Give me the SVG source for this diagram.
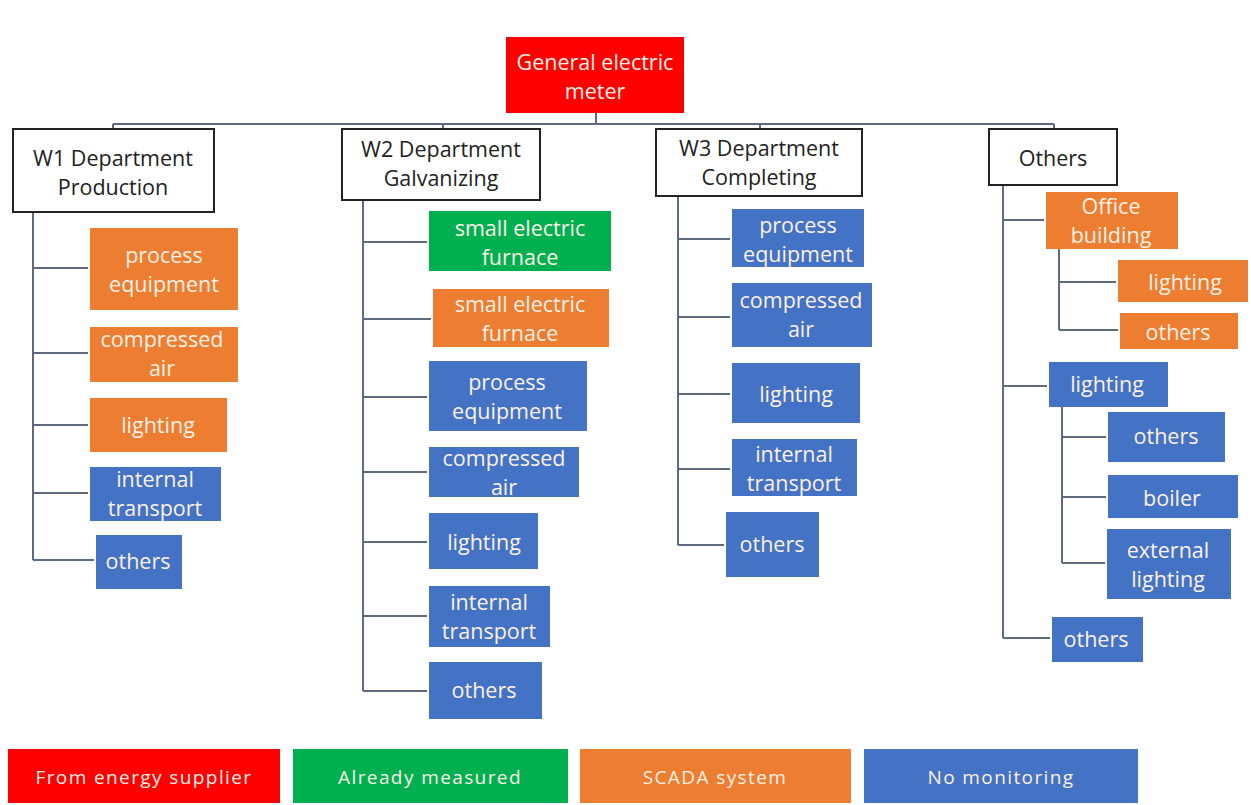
<svg xmlns="http://www.w3.org/2000/svg" width="1251" height="805" viewBox="0 0 1251 805">
<style>
text{font-family:"Open Sans","Noto Sans",sans-serif;font-size:21.5px;text-anchor:middle;dominant-baseline:central}
.dept rect{fill:#fff;stroke:#222;stroke-width:2}
.dept text{fill:#222}
.o rect{fill:#ED7D31}
.b rect{fill:#4472C4}
.g rect{fill:#00B050}
.r rect{fill:#FF0000}
.o text,.b text,.g text,.r text{fill:#FBF1E6}
.leg text{font-size:19px;letter-spacing:1.4px}
#connectors path{fill:none;stroke:#5E6A80;stroke-width:2}
</style>
<rect width="1251" height="805" fill="#fff"/>
<g id="connectors">
<path d="M596 113V124M113 124H1054M113 124V129M443 124V129M760 124V129M1054 124V129"/>
<path d="M33 212V560M33 268H88M33 353H88M33 425H88M33 493H88M33 560H94"/>
<path d="M363 200V691M363 242H427M363 319H431M363 397H427M363 472H427M363 542H427M363 616H427M363 691H427"/>
<path d="M678 196V545M678 239H730M678 317H730M678 394H730M678 469H730M678 545H724"/>
<path d="M1003 185V638M1003 220H1044M1003 386H1047M1003 638H1050"/>
<path d="M1059 249V330M1059 282H1116M1059 330H1118"/>
<path d="M1062 407V563M1062 437H1106M1062 497H1106M1062 563H1105"/>
</g>
<g id="meter" class="r"><rect x="506" y="37" width="178" height="76"/><text x="595" y="61">General electric</text><text x="595" y="90">meter</text></g>
<g id="w1" class="dept"><rect x="13" y="129" width="201" height="83"/><text x="113" y="157">W1 Department</text><text x="113" y="186">Production</text></g>
<g id="w2" class="dept"><rect x="342" y="129" width="198" height="71"/><text x="441" y="148">W2 Department</text><text x="441" y="177">Galvanizing</text></g>
<g id="w3" class="dept"><rect x="656" y="129" width="206" height="67"/><text x="759" y="147">W3 Department</text><text x="759" y="176">Completing</text></g>
<g id="oth" class="dept"><rect x="989" y="129" width="128" height="56"/><text x="1053" y="157">Others</text></g>

<g id="w1-pe" class="o"><rect x="90" y="228" width="148" height="82"/><text x="164" y="254">process</text><text x="164" y="283">equipment</text></g>
<g id="w1-ca" class="o"><rect x="90" y="327" width="148" height="55"/><text x="162" y="338">compressed</text><text x="162" y="367">air</text></g>
<g id="w1-li" class="o"><rect x="90" y="398" width="137" height="54"/><text x="158" y="424">lighting</text></g>
<g id="w1-it" class="b"><rect x="90" y="467" width="131" height="54"/><text x="155" y="478">internal</text><text x="155" y="507">transport</text></g>
<g id="w1-ot" class="b"><rect x="96" y="535" width="86" height="54"/><text x="138" y="560">others</text></g>

<g id="w2-sf1" class="g"><rect x="429" y="211" width="182" height="60"/><text x="520" y="227">small electric</text><text x="520" y="256">furnace</text></g>
<g id="w2-sf2" class="o"><rect x="433" y="289" width="176" height="58"/><text x="520" y="303">small electric</text><text x="520" y="332">furnace</text></g>
<g id="w2-pe" class="b"><rect x="429" y="361" width="158" height="70"/><text x="507" y="381">process</text><text x="507" y="410">equipment</text></g>
<g id="w2-ca" class="b"><rect x="429" y="447" width="150" height="50"/><text x="504" y="457">compressed</text><text x="504" y="486">air</text></g>
<g id="w2-li" class="b"><rect x="429" y="513" width="109" height="56"/><text x="484" y="541">lighting</text></g>
<g id="w2-it" class="b"><rect x="429" y="586" width="121" height="61"/><text x="489" y="601">internal</text><text x="489" y="630">transport</text></g>
<g id="w2-ot" class="b"><rect x="429" y="662" width="113" height="57"/><text x="484" y="689">others</text></g>

<g id="w3-pe" class="b"><rect x="732" y="209" width="132" height="58"/><text x="798" y="224">process</text><text x="798" y="253">equipment</text></g>
<g id="w3-ca" class="b"><rect x="732" y="283" width="140" height="64"/><text x="801" y="299">compressed</text><text x="801" y="328">air</text></g>
<g id="w3-li" class="b"><rect x="732" y="363" width="128" height="60"/><text x="796" y="393">lighting</text></g>
<g id="w3-it" class="b"><rect x="732" y="439" width="125" height="57"/><text x="794" y="453">internal</text><text x="794" y="482">transport</text></g>
<g id="w3-ot" class="b"><rect x="726" y="512" width="93" height="65"/><text x="772" y="543">others</text></g>

<g id="o-ob" class="o"><rect x="1046" y="192" width="132" height="57"/><text x="1111" y="205">Office</text><text x="1111" y="234">building</text></g>
<g id="o-ob-li" class="o"><rect x="1118" y="260" width="130" height="42"/><text x="1185" y="281">lighting</text></g>
<g id="o-ob-ot" class="o"><rect x="1120" y="313" width="118" height="36"/><text x="1178" y="331">others</text></g>
<g id="o-li" class="b"><rect x="1049" y="362" width="119" height="45"/><text x="1107" y="383">lighting</text></g>
<g id="o-li-ot" class="b"><rect x="1108" y="412" width="117" height="50"/><text x="1166" y="435">others</text></g>
<g id="o-li-bo" class="b"><rect x="1108" y="475" width="130" height="43"/><text x="1172" y="497">boiler</text></g>
<g id="o-li-el" class="b"><rect x="1107" y="529" width="124" height="70"/><text x="1168" y="549">external</text><text x="1168" y="578">lighting</text></g>
<g id="o-ot" class="b"><rect x="1052" y="617" width="91" height="45"/><text x="1096" y="638">others</text></g>

<g id="leg-red" class="r leg"><rect x="8" y="749" width="272" height="54"/><text x="144" y="777">From energy supplier</text></g>
<g id="leg-green" class="g leg"><rect x="293" y="749" width="275" height="54"/><text x="430" y="777">Already measured</text></g>
<g id="leg-orange" class="o leg"><rect x="580" y="749" width="271" height="54"/><text x="715" y="777">SCADA system</text></g>
<g id="leg-blue" class="b leg"><rect x="864" y="749" width="274" height="54"/><text x="1001" y="777">No monitoring</text></g>
</svg>
